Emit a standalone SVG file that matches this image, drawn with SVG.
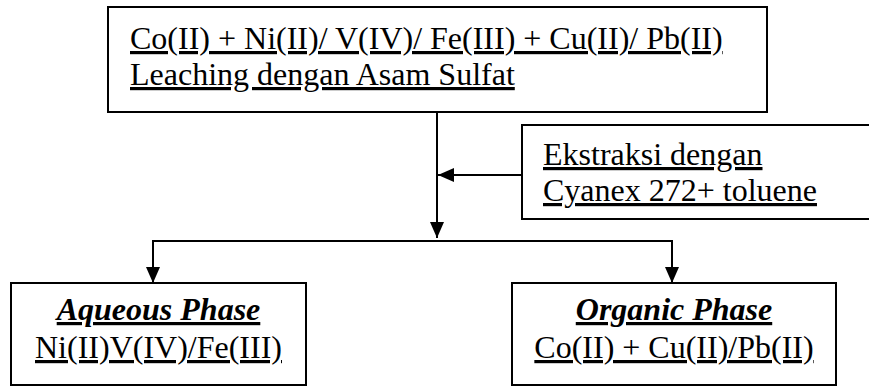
<svg xmlns="http://www.w3.org/2000/svg" width="869" height="387" viewBox="0 0 869 387">
<style>
.box{fill:#fff;stroke:#000;stroke-width:2}
.t{font-family:"Liberation Serif","Times New Roman",serif;font-size:32px;fill:#000;text-decoration:underline}
.bi{font-weight:bold;font-style:italic}
.c{stroke:#000;stroke-width:2;fill:none}
</style>
<defs>
<marker id="ah" viewBox="0 0 16 14" refX="16" refY="7" markerWidth="16" markerHeight="14" markerUnits="userSpaceOnUse" orient="auto">
<path d="M0,0 L16,7 L0,14 Z" fill="#000"/>
</marker>
</defs>
<rect width="869" height="387" fill="#fff"/>
<g id="top">
<rect class="box" x="108" y="7" width="659" height="105"/>
<text class="t" x="130" y="49">Co(II) + Ni(II)/ V(IV)/ Fe(III) + Cu(II)/ Pb(II)</text>
<text class="t" x="130" y="85">Leaching dengan Asam Sulfat</text>
</g>
<g id="ekstraksi">
<rect class="box" x="522" y="125" width="360" height="94"/>
<text class="t" x="543" y="165">Ekstraksi dengan</text>
<text class="t" x="543" y="201">Cyanex 272+ toluene</text>
</g>
<g id="aqueous">
<rect class="box" x="11" y="283" width="295" height="102"/>
<text class="t bi" x="158.5" y="320" text-anchor="middle">Aqueous Phase</text>
<text class="t" x="158.5" y="358" text-anchor="middle">Ni(II)V(IV)/Fe(III)</text>
</g>
<g id="organic">
<rect class="box" x="512" y="283" width="324" height="102"/>
<text class="t bi" x="674" y="320" text-anchor="middle">Organic Phase</text>
<text class="t" x="674" y="358" text-anchor="middle">Co(II) + Cu(II)/Pb(II)</text>
</g>
<g id="connectors">
<line class="c" x1="437" y1="112" x2="437" y2="238" marker-end="url(#ah)"/>
<line class="c" x1="522" y1="175" x2="438" y2="175" marker-end="url(#ah)"/>
<polyline class="c" points="153,282 153,241 672,241 672,282"/>
<line class="c" x1="153" y1="241" x2="153" y2="283" marker-end="url(#ah)"/>
<line class="c" x1="672" y1="241" x2="672" y2="283" marker-end="url(#ah)"/>
</g>
</svg>
